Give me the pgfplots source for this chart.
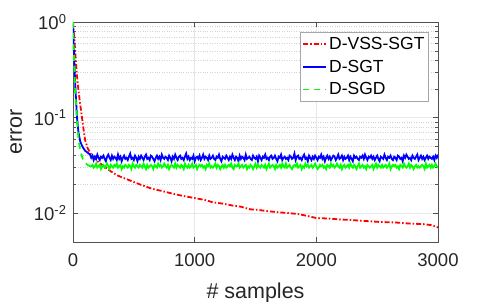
\documentclass[border=0pt]{standalone}
\usepackage{fontspec}
\setmainfont{Liberation Sans}
\usepackage{pgfplots}
\pgfplotsset{compat=1.18}
\definecolor{mgray}{RGB}{38,38,38}
\definecolor{mred}{RGB}{255,0,0}
\definecolor{mblue}{RGB}{0,0,255}
\definecolor{mgreen}{RGB}{0,255,0}
\begin{document}
\begin{tikzpicture}[x=1pt,y=1pt]
\path[use as bounding box] (0,0) rectangle (485,302);
\begin{axis}[
  at={(73pt,60pt)}, anchor=south west,
  scale only axis, width=365pt, height=220pt,
  xmin=0, xmax=3000, ymode=log, ymin=0.005, ymax=1,
  xtick={0,1000,2000,3000}, xticklabels={0,1000,2000,3000},
  ytick={0.01,0.1,1},
  yticklabels={10\textsuperscript{-2},10\textsuperscript{-1},10\textsuperscript{0}},
  tick label style={font=\fontsize{18.5}{20}\selectfont, text=mgray},
  xticklabel style={yshift=-8pt},
  yticklabel style={xshift=-3pt},
  xlabel={\# samples}, ylabel={error},
  label style={font=\fontsize{21.5}{24}\selectfont, text=mgray},
  xlabel style={yshift=-9pt},
  ylabel style={yshift=5pt},
  axis line style={mgray!80, line width=0.6pt},
  tick style={mgray!80, line width=0.5pt},
  tick align=inside, major tick length=5pt, minor tick length=3pt,
  grid=both,
  major grid style={gray!18, line width=0.6pt},
  minor grid style={gray!35, dotted, line width=0.5pt},
  legend style={at={(0.975,0.955)}, anchor=north east,
    font=\fontsize{17.5}{20}\selectfont, text=black,
    draw=gray!70, line width=0.8pt, inner xsep=2pt, inner ysep=3pt,
    row sep=5pt},
  legend cell align=left,
  legend image code/.code={\draw[#1, line width=1.4pt] (0pt,0pt) -- (23pt,0pt);},
]
\addplot[mred, line width=1.8pt, dash pattern=on 5pt off 2pt on 1.5pt off 2pt] coordinates {
(0,1) (10,0.7) (20,0.45) (30,0.3) (40,0.22) (50,0.17) (60,0.135) (74,0.1) (87,0.075) (100,0.058) (120,0.048) (150,0.041) (200,0.035) (247,0.0315) (300,0.028) (360,0.025) (410,0.0235) (468,0.022) (550,0.020) (650,0.018) (720,0.0172) (820,0.016) (900,0.0152) (1000,0.0144) (1080,0.0138) (1150,0.013) (1230,0.0126) (1315,0.012) (1380,0.0117) (1454,0.011) (1530,0.0108) (1600,0.0105) (1700,0.0102) (1783,0.010) (1850,0.0098) (1920,0.0094) (2000,0.0089) (2100,0.0088) (2200,0.0086) (2276,0.0085) (2400,0.0083) (2523,0.0081) (2650,0.0080) (2760,0.0078) (2876,0.0077) (2950,0.0075) (3000,0.0071)
};
\addlegendentry{D-VSS-SGT}
\addplot[mblue, line width=1.8pt] coordinates {
(0,0.95) (5,0.6) (10,0.4) (20,0.2) (33,0.1) (45,0.07) (60,0.056) (80,0.049) (100,0.045) (120,0.043) (140,0.041)
(150,0.038)(160,0.040)(170,0.036)(180,0.039)(190,0.037)(200,0.041)(210,0.038)(220,0.036)(230,0.039)(240,0.038)
(250,0.040)(260,0.037)(270,0.035)(280,0.039)(290,0.041)(300,0.038)(310,0.036)(320,0.040)(330,0.037)(340,0.039)
(350,0.038)(360,0.036)(370,0.041)(380,0.037)(390,0.039)(400,0.035)(410,0.038)(420,0.040)(430,0.037)(440,0.038)
(450,0.036)(460,0.039)(470,0.042)(480,0.037)(490,0.038)(500,0.036)(510,0.040)(520,0.038)(530,0.035)(540,0.039)
(550,0.037)(560,0.040)(570,0.038)(580,0.036)(590,0.039)(600,0.041)(610,0.037)(620,0.038)(630,0.036)(640,0.040)
(650,0.039)(660,0.037)(670,0.035)(680,0.038)(690,0.040)(700,0.037)(710,0.039)(720,0.036)(730,0.041)(740,0.038)
(750,0.037)(760,0.039)(770,0.038)(780,0.036)(790,0.040)(800,0.038)(810,0.035)(820,0.039)(830,0.037)(840,0.041)
(850,0.038)(860,0.036)(870,0.039)(880,0.040)(890,0.037)(900,0.038)(910,0.036)(920,0.039)(930,0.042)(940,0.037)
(950,0.039)(960,0.036)(970,0.038)(980,0.037)(990,0.040)(1000,0.035)(1010,0.038)(1020,0.039)(1030,0.037)(1040,0.040)
(1050,0.036)(1060,0.038)(1070,0.041)(1080,0.037)(1090,0.039)(1100,0.038)(1110,0.036)(1120,0.040)(1130,0.037)(1140,0.038)
(1150,0.040)(1160,0.037)(1170,0.036)(1180,0.039)(1190,0.038)(1200,0.041)(1210,0.037)(1220,0.035)(1230,0.039)(1240,0.038)
(1250,0.037)(1260,0.040)(1270,0.038)(1280,0.036)(1290,0.039)(1300,0.037)(1310,0.041)(1320,0.038)(1330,0.036)(1340,0.039)
(1350,0.038)(1360,0.035)(1370,0.040)(1380,0.037)(1390,0.039)(1400,0.038)(1410,0.036)(1420,0.041)(1430,0.037)(1440,0.038)
(1450,0.039)(1460,0.037)(1470,0.036)(1480,0.040)(1490,0.038)(1500,0.037)(1510,0.039)(1520,0.035)(1530,0.040)(1540,0.038)
(1550,0.036)(1560,0.039)(1570,0.038)(1580,0.041)(1590,0.037)(1600,0.038)(1610,0.036)(1620,0.039)(1630,0.040)(1640,0.037)
(1650,0.038)(1660,0.040)(1670,0.037)(1680,0.035)(1690,0.039)(1700,0.038)(1710,0.041)(1720,0.036)(1730,0.038)(1740,0.039)
(1750,0.037)(1760,0.038)(1770,0.036)(1780,0.040)(1790,0.039)(1800,0.037)(1810,0.038)(1820,0.042)(1830,0.036)(1840,0.039)
(1850,0.040)(1860,0.037)(1870,0.038)(1880,0.036)(1890,0.039)(1900,0.041)(1910,0.037)(1920,0.038)(1930,0.035)(1940,0.040)
(1950,0.038)(1960,0.036)(1970,0.039)(1980,0.037)(1990,0.040)(2000,0.038)(2010,0.036)(2020,0.039)(2030,0.038)(2040,0.041)
(2050,0.037)(2060,0.039)(2070,0.035)(2080,0.038)(2090,0.040)(2100,0.037)(2110,0.039)(2120,0.036)(2130,0.038)(2140,0.040)
(2150,0.039)(2160,0.036)(2170,0.038)(2180,0.041)(2190,0.037)(2200,0.038)(2210,0.040)(2220,0.036)(2230,0.039)(2240,0.037)
(2250,0.038)(2260,0.040)(2270,0.036)(2280,0.039)(2290,0.037)(2300,0.035)(2310,0.040)(2320,0.038)(2330,0.039)(2340,0.037)
(2350,0.036)(2360,0.039)(2370,0.038)(2380,0.040)(2390,0.037)(2400,0.041)(2410,0.038)(2420,0.036)(2430,0.039)(2440,0.038)
(2450,0.040)(2460,0.037)(2470,0.039)(2480,0.036)(2490,0.038)(2500,0.040)(2510,0.037)(2520,0.035)(2530,0.039)(2540,0.038)
(2550,0.037)(2560,0.041)(2570,0.038)(2580,0.036)(2590,0.039)(2600,0.038)(2610,0.040)(2620,0.037)(2630,0.036)(2640,0.039)
(2650,0.038)(2660,0.036)(2670,0.040)(2680,0.039)(2690,0.037)(2700,0.038)(2710,0.035)(2720,0.040)(2730,0.038)(2740,0.041)
(2750,0.039)(2760,0.037)(2770,0.038)(2780,0.036)(2790,0.040)(2800,0.038)(2810,0.037)(2820,0.039)(2830,0.041)(2840,0.036)
(2850,0.038)(2860,0.040)(2870,0.037)(2880,0.039)(2890,0.036)(2900,0.038)(2910,0.040)(2920,0.037)(2930,0.039)(2940,0.038)
(2950,0.037)(2960,0.039)(2970,0.036)(2980,0.040)(2990,0.038)(3000,0.041)
};
\addlegendentry{D-SGT}
\addplot[mgreen, line width=1.8pt, dash pattern=on 6pt off 5pt] coordinates {
(0,1.0) (5,0.55) (10,0.35) (20,0.17) (32,0.1) (45,0.06) (60,0.045) (80,0.037) (100,0.034) (120,0.032) (140,0.031)
};
\addlegendentry{D-SGD}
\addplot[mgreen, line width=1.8pt, forget plot] coordinates {
(140,0.031)
(150,0.031)(160,0.032)(170,0.030)(180,0.031)(190,0.033)(200,0.030)(210,0.031)(220,0.032)(230,0.029)(240,0.031)
(250,0.032)(260,0.030)(270,0.031)(280,0.033)(290,0.031)(300,0.029)(310,0.032)(320,0.031)(330,0.030)(340,0.032)
(350,0.031)(360,0.033)(370,0.030)(380,0.031)(390,0.032)(400,0.029)(410,0.031)(420,0.030)(430,0.032)(440,0.031)
(450,0.030)(460,0.032)(470,0.031)(480,0.029)(490,0.033)(500,0.031)(510,0.030)(520,0.032)(530,0.031)(540,0.030)
(550,0.032)(560,0.031)(570,0.030)(580,0.033)(590,0.031)(600,0.029)(610,0.032)(620,0.030)(630,0.031)(640,0.032)
(650,0.031)(660,0.029)(670,0.032)(680,0.031)(690,0.030)(700,0.033)(710,0.031)(720,0.032)(730,0.030)(740,0.031)
(750,0.033)(760,0.031)(770,0.030)(780,0.032)(790,0.029)(800,0.031)(810,0.032)(820,0.031)(830,0.030)(840,0.033)
(850,0.030)(860,0.032)(870,0.031)(880,0.030)(890,0.032)(900,0.031)(910,0.029)(920,0.033)(930,0.031)(940,0.030)
(950,0.032)(960,0.030)(970,0.031)(980,0.033)(990,0.030)(1000,0.031)(1010,0.032)(1020,0.029)(1030,0.031)(1040,0.032)
(1050,0.031)(1060,0.032)(1070,0.030)(1080,0.031)(1090,0.029)(1100,0.032)(1110,0.031)(1120,0.033)(1130,0.030)(1140,0.031)
(1150,0.030)(1160,0.031)(1170,0.033)(1180,0.030)(1190,0.032)(1200,0.031)(1210,0.029)(1220,0.031)(1230,0.032)(1240,0.030)
(1250,0.032)(1260,0.030)(1270,0.031)(1280,0.032)(1290,0.031)(1300,0.033)(1310,0.030)(1320,0.029)(1330,0.032)(1340,0.031)
(1350,0.031)(1360,0.033)(1370,0.030)(1380,0.031)(1390,0.032)(1400,0.030)(1410,0.031)(1420,0.032)(1430,0.029)(1440,0.031)
(1450,0.030)(1460,0.032)(1470,0.031)(1480,0.029)(1490,0.031)(1500,0.033)(1510,0.030)(1520,0.032)(1530,0.031)(1540,0.030)
(1550,0.032)(1560,0.031)(1570,0.030)(1580,0.032)(1590,0.029)(1600,0.031)(1610,0.033)(1620,0.030)(1630,0.031)(1640,0.032)
(1650,0.031)(1660,0.029)(1670,0.032)(1680,0.030)(1690,0.031)(1700,0.032)(1710,0.030)(1720,0.033)(1730,0.031)(1740,0.030)
(1750,0.033)(1760,0.030)(1770,0.031)(1780,0.032)(1790,0.030)(1800,0.029)(1810,0.031)(1820,0.032)(1830,0.031)(1840,0.033)
(1850,0.030)(1860,0.031)(1870,0.032)(1880,0.029)(1890,0.031)(1900,0.030)(1910,0.033)(1920,0.031)(1930,0.032)(1940,0.030)
(1950,0.031)(1960,0.032)(1970,0.030)(1980,0.031)(1990,0.033)(2000,0.031)(2010,0.029)(2020,0.030)(2030,0.032)(2040,0.031)
(2050,0.032)(2060,0.030)(2070,0.031)(2080,0.029)(2090,0.032)(2100,0.031)(2110,0.030)(2120,0.033)(2130,0.031)(2140,0.032)
(2150,0.030)(2160,0.031)(2170,0.033)(2180,0.031)(2190,0.030)(2200,0.032)(2210,0.029)(2220,0.031)(2230,0.032)(2240,0.030)
(2250,0.031)(2260,0.032)(2270,0.030)(2280,0.033)(2290,0.031)(2300,0.030)(2310,0.032)(2320,0.031)(2330,0.029)(2340,0.031)
(2350,0.033)(2360,0.030)(2370,0.031)(2380,0.032)(2390,0.030)(2400,0.031)(2410,0.029)(2420,0.032)(2430,0.031)(2440,0.030)
(2450,0.031)(2460,0.032)(2470,0.029)(2480,0.031)(2490,0.033)(2500,0.030)(2510,0.032)(2520,0.031)(2530,0.030)(2540,0.032)
(2550,0.030)(2560,0.031)(2570,0.032)(2580,0.030)(2590,0.031)(2600,0.033)(2610,0.029)(2620,0.031)(2630,0.032)(2640,0.031)
(2650,0.032)(2660,0.030)(2670,0.031)(2680,0.029)(2690,0.032)(2700,0.031)(2710,0.030)(2720,0.033)(2730,0.031)(2740,0.030)
(2750,0.031)(2760,0.033)(2770,0.030)(2780,0.032)(2790,0.031)(2800,0.029)(2810,0.031)(2820,0.032)(2830,0.030)(2840,0.031)
(2850,0.030)(2860,0.031)(2870,0.032)(2880,0.031)(2890,0.029)(2900,0.033)(2910,0.030)(2920,0.031)(2930,0.032)(2940,0.030)
(2950,0.032)(2960,0.030)(2970,0.031)(2980,0.033)(2990,0.031)(3000,0.030)
};
\end{axis}
\end{tikzpicture}
\end{document}
